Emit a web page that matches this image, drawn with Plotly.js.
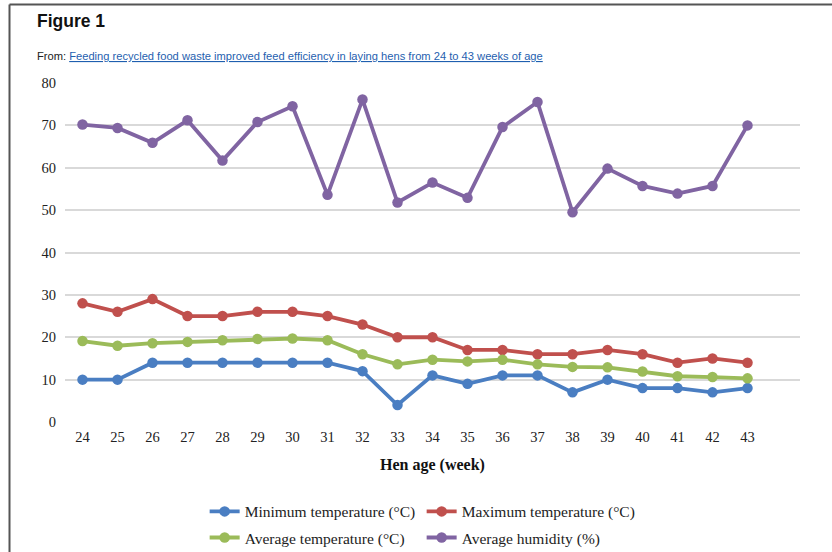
<!DOCTYPE html>
<html>
<head>
<meta charset="utf-8">
<script src="https://cdn.plot.ly/plotly-3.0.1.min.js"></script>
<style>
html,body{margin:0;padding:0;background:#fff;}
#chart{width:832px;height:552px;}
</style>
</head>
<body>
<div id="chart"></div>
<script>
// Data
const weeks = [24,25,26,27,28,29,30,31,32,33,34,35,36,37,38,39,40,41,42,43];
const minTemp = [10,10,14,14,14,14,14,14,12,4,11,9,11,11,7,10,8,8,7,8];
const maxTemp = [28,26,29,25,25,26,26,25,23,20,20,17,17,16,16,17,16,14,15,14];
const avgTemp = [19.1,18.0,18.6,18.9,19.3,19.6,19.7,19.3,16.0,13.6,14.7,14.3,14.7,13.6,13.0,12.9,11.9,10.8,10.6,10.3];
const avgHum = [70.2,69.4,65.9,71.2,61.7,70.8,74.5,53.6,76.1,51.8,56.5,52.9,69.6,75.5,49.5,59.8,55.7,53.9,55.7,70.0];
const yTicks = [0,10,20,30,40,50,60,70,80];
const seriesNames = ['Minimum temperature (°C)','Maximum temperature (°C)','Average temperature (°C)','Average humidity (%)'];
const seriesColors = ['#4A7EC2','#C0504D','#9BBB59','#8064A2'];

const allSeries = [minTemp, maxTemp, avgTemp, avgHum];
const legendIds = ['legend','legend','legend2','legend2'];
const traces = allSeries.map((vals,i)=>({
  type:'scatter', mode:'lines+markers',
  x: weeks, y: vals, name: seriesNames[i],
  line:{color:seriesColors[i], width:3.8},
  marker:{color:seriesColors[i], size:10.5},
  legend: legendIds[i],
  hoverinfo:'x+y+name'
}));

const serif = 'Liberation Serif, Times New Roman, serif';
const legendCommon = {
  orientation:'h', xanchor:'left', yanchor:'middle',
  font:{family:serif, size:15.5, color:'#222'},
  entrywidth:172, entrywidthmode:'pixels',
  bgcolor:'rgba(0,0,0,0)', borderwidth:0,
  itemclick:false, itemdoubleclick:false, traceorder:'normal'
};

const layout = {
  width:832, height:552,
  margin:{l:65, r:32, t:83, b:130, autoexpand:false},
  paper_bgcolor:'#fff', plot_bgcolor:'#fff',
  showlegend:true,
  xaxis:{
    range:[23.5,44.5], tickvals:weeks, ticktext:weeks.map(String),
    showgrid:false, zeroline:false, showline:false, ticks:'',
    tickfont:{family:serif, size:14.5, color:'#222'},
    ticklabelstandoff:4,
    title:{text:'<b>Hen age (week)</b>', font:{family:serif, size:16, color:'#111'}, standoff:15},
    automargin:false,
    fixedrange:true
  },
  yaxis:{
    range:[0,80], tickvals:yTicks, showgrid:true, gridcolor:'#D9D9D9', gridwidth:1.5,
    zeroline:false, showline:false, ticks:'',
    tickfont:{family:serif, size:14.5, color:'#222'},
    ticklabelstandoff:8,
    automargin:false,
    fixedrange:true
  },
  legend: Object.assign({}, legendCommon, {x:0.19, y:-0.265}),
  legend2: Object.assign({}, legendCommon, {x:0.19, y:-0.342}),
  annotations:[
    {xref:'paper', yref:'paper', x:-0.041, y:1.1475, xanchor:'left', yanchor:'bottom', showarrow:false,
     text:'<b>Figure 1</b>', font:{family:'Liberation Sans, Arial, sans-serif', size:17.5, color:'#111'}},
    {xref:'paper', yref:'paper', x:-0.041, y:1.056, xanchor:'left', yanchor:'bottom', showarrow:false,
     text:'From: <span style="color:#1F5FAF"><u>Feeding recycled food waste improved feed efficiency in laying hens from 24 to 43 weeks of age</u></span>',
     font:{family:'Liberation Sans, Arial, sans-serif', size:11.15, color:'#222'}}
  ],
  shapes:[
    {type:'line', xref:'paper', yref:'paper', x0:-0.0755, x1:1.05, y0:1.2316, y1:1.2316, line:{color:'#555', width:2}},
    {type:'line', xref:'paper', yref:'paper', x0:-0.0755, x1:-0.0755, y0:1.2316, y1:-0.40, line:{color:'#555', width:2}}
  ]
};

Plotly.newPlot('chart', traces, layout, {displayModeBar:false, staticPlot:false});
</script>
</body>
</html>
